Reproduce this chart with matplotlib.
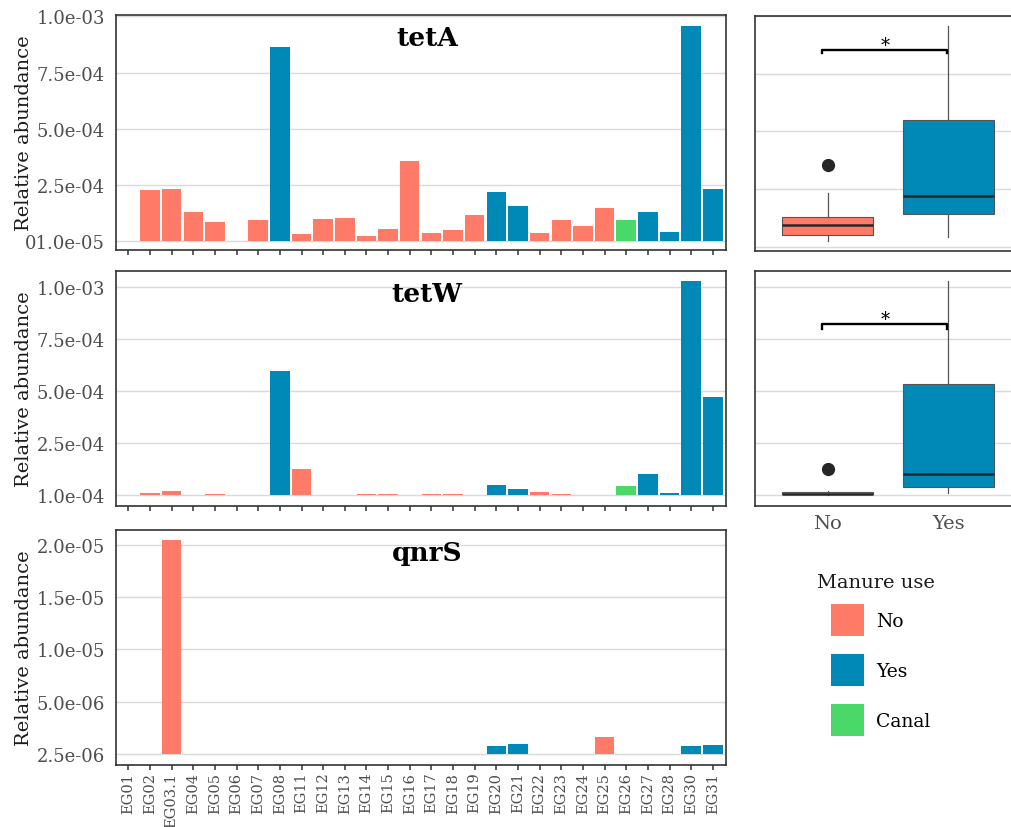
import numpy as np
import matplotlib.pyplot as plt
from matplotlib.patches import Patch

plt.rcParams['font.family'] = ['DejaVu Serif']

samples = ['EG01', 'EG02', 'EG03.1', 'EG04', 'EG05', 'EG06', 'EG07', 'EG08',
           'EG11', 'EG12', 'EG13', 'EG14', 'EG15', 'EG16', 'EG17', 'EG18',
           'EG19', 'EG20', 'EG21', 'EG22', 'EG23', 'EG24', 'EG25', 'EG26',
           'EG27', 'EG28', 'EG30', 'EG31']
manure = ['No', 'No', 'No', 'No', 'No', 'No', 'No', 'Yes',
          'No', 'No', 'No', 'No', 'No', 'No', 'No', 'No',
          'No', 'Yes', 'Yes', 'No', 'No', 'No', 'No', 'Canal',
          'Yes', 'Yes', 'Yes', 'Yes']

nan = np.nan
# relative abundance per sample, nan = not detected
tetA = np.array([nan, 2.26, 2.33, 1.32, 0.85, nan, 0.95, 8.64,
                 0.33, 1.01, 1.03, 0.25, 0.54, 3.55, 0.37, 0.49,
                 1.16, 2.21, 1.56, 0.37, 0.95, 0.67, 1.47, 0.94,
                 1.29, 0.41, 9.55, 2.32]) * 1e-4
tetW = np.array([nan, 0.12, 0.22, nan, 0.06, nan, nan, 5.96,
                 1.26, nan, nan, 0.08, 0.08, nan, 0.05, 0.05,
                 0.03, 0.48, 0.30, 0.16, 0.08, nan, nan, 0.43,
                 1.04, 0.11, 10.29, 4.70]) * 1e-4
qnrS = np.array([nan, nan, 20.49, nan, nan, nan, nan, nan,
                 nan, nan, nan, nan, nan, nan, nan, nan,
                 nan, 0.76, 0.98, nan, nan, nan, 1.60, nan,
                 nan, nan, 0.76, 0.83]) * 1e-6

groups = ['No', 'Yes', 'Canal']
colors = {'No': '#FF7A67', 'Yes': '#0088B6', 'Canal': '#4AD968'}

tick_vals = {
    'tetA': [0, 2.5e-4, 5e-4, 7.5e-4, 1e-3],
    'tetW': [0, 2.5e-4, 5e-4, 7.5e-4, 1e-3],
    'qnrS': [0, 5e-6, 1e-5, 1.5e-5, 2e-5],
}
tick_labels = {
    'tetA': ['01.0e-05', '2.5e-04', '5.0e-04', '7.5e-04', '1.0e-03'],
    'tetW': ['1.0e-04', '2.5e-04', '5.0e-04', '7.5e-04', '1.0e-03'],
    'qnrS': ['2.5e-06', '5.0e-06', '1.0e-05', '1.5e-05', '2.0e-05'],
}
ylims = {'tetA': (-3.9e-5, 1.006e-3), 'tetW': (-5.0e-5, 1.077e-3),
         'qnrS': (-1.02e-6, 2.144e-5)}

W, H = 1011, 828
fig = plt.figure(figsize=(W / 100, H / 100), dpi=100)


def px_axes(left, top, right, bottom):
    return fig.add_axes([left / W, 1 - bottom / H, (right - left) / W, (bottom - top) / H])


def style(ax):
    for s in ax.spines.values():
        s.set_color('#333333')
        s.set_linewidth(1.2)
    ax.set_axisbelow(True)
    ax.yaxis.grid(True, color='#DADADA', linewidth=1.0)
    ax.xaxis.grid(False)


rows = [('tetA', tetA, 16, 251), ('tetW', tetW, 271.7, 506.7), ('qnrS', qnrS, 530.7, 765.7)]
x = np.arange(len(samples))
bar_cols = [colors[m] for m in manure]

for name, vals, top, bottom in rows:
    ax = px_axes(116, top, 726, bottom)
    style(ax)
    ax.bar(x, np.nan_to_num(vals), width=0.9, color=bar_cols, linewidth=0)
    ax.set_xlim(-0.57, 27.61)
    ax.set_ylim(*ylims[name])
    ax.set_yticks(tick_vals[name])
    ax.set_yticklabels(tick_labels[name])
    ax.tick_params(axis='y', length=0, pad=8, labelsize=13, labelcolor='#4D4D4D')
    ax.set_xticks(x)
    ax.tick_params(axis='x', length=3.5, width=1.1, color='#333333', pad=1.5)
    if name == 'qnrS':
        ax.set_xticklabels(samples, rotation=90, fontsize=10.5, color='#4D4D4D')
    else:
        ax.set_xticklabels([])
    ax.text(0.51, 0.905, name, transform=ax.transAxes, ha='center', va='center',
            fontsize=19, fontweight='bold', color='black')
    ax.set_ylabel('Relative abundance', fontsize=14, color='#1A1A1A')
    ax.yaxis.set_label_coords(-0.136, 0.5)

# boxplots of No vs Yes with significance bracket
box_rows = [('tetA', tetA, 16.7, 251.7, (-1.7e-5, 1.001e-3), 8.54e-4, 8.39e-4),
            ('tetW', tetW, 271.7, 506.7, (-5.0e-5, 1.077e-3), 8.21e-4, 7.97e-4)]
arr_manure = np.array(manure)
for name, vals, top, bottom, ylim, y_br, y_tip in box_rows:
    ax = px_axes(755, top, 1021, bottom)
    style(ax)
    data = []
    for g in ['No', 'Yes']:
        v = vals[arr_manure == g]
        data.append(v[~np.isnan(v)])
    bp = ax.boxplot(data, positions=[1, 2], widths=0.75, patch_artist=True,
                    showcaps=False,
                    medianprops=dict(color='#262626', linewidth=1.8),
                    whiskerprops=dict(color='#555555', linewidth=0.9),
                    boxprops=dict(edgecolor='#555555', linewidth=0.8),
                    flierprops=dict(marker='o', markerfacecolor='#262626',
                                    markeredgecolor='#262626', markersize=8.5))
    for patch, g in zip(bp['boxes'], ['No', 'Yes']):
        patch.set_facecolor(colors[g])
    ax.set_xlim(0.4, 2.6)
    ax.set_ylim(*ylim)
    ax.set_yticks(tick_vals[name])
    ax.set_yticklabels([])
    ax.tick_params(axis='y', length=0)
    ax.tick_params(axis='x', length=0, pad=6, labelsize=14, labelcolor='#4D4D4D')
    ax.set_xticks([1, 2])
    if name == 'tetW':
        ax.set_xticklabels(['No', 'Yes'])
    else:
        ax.set_xticklabels([])
    ax.plot([0.95, 0.95, 1.99, 1.99], [y_tip, y_br, y_br, y_tip], color='black', linewidth=1.7)
    ax.text(1.48, y_br, '*', ha='center', va='baseline', fontsize=13, color='black')

# legend
fig.text(816.7 / W, 1 - 583.3 / H, 'Manure use', ha='left', va='center',
         fontsize=14, color='#1A1A1A')
handles = [Patch(facecolor=colors[g], edgecolor='none', label=g) for g in groups]
fig.legend(handles=handles, loc='upper left', bbox_to_anchor=(831 / W, 1 - 605 / H),
           frameon=False, fontsize=13.5, handlelength=1.76, handleheight=2.25,
           labelspacing=0.96, handletextpad=0.64, borderpad=0, borderaxespad=0)

fig.savefig('out.png', dpi=100)
